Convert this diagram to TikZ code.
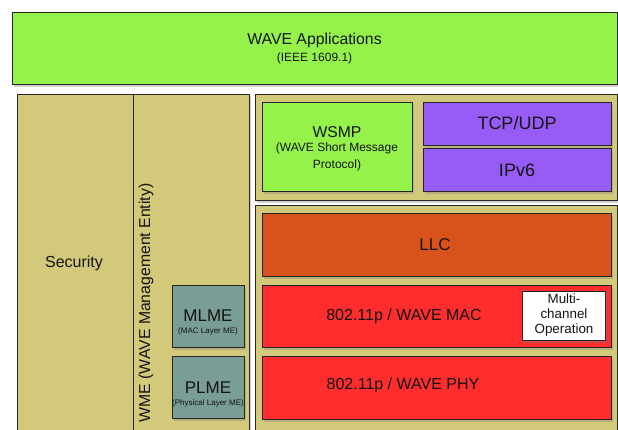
\documentclass[tikz,border=0pt]{standalone}
\usepackage{fontspec}
\setmainfont{Liberation Sans}
\usetikzlibrary{shadows}
\definecolor{appgreen}{RGB}{148,242,74}
\definecolor{khaki}{RGB}{211,201,122}
\definecolor{tealgray}{RGB}{122,157,149}
\definecolor{purp}{RGB}{152,92,246}
\definecolor{llcorange}{RGB}{216,82,28}
\definecolor{macred}{RGB}{255,45,45}
\newcommand\myfs[1]{\fontsize{#1}{#1}\selectfont}
\tikzset{
  blk/.style={draw=black!85, line width=0.9pt, inner sep=0pt, anchor=center,
    drop shadow={shadow xshift=1.5pt, shadow yshift=-2.5pt, opacity=0.35}},
  lbl/.style={inner sep=0pt, text=black!92, align=center},
}
\begin{document}
\begin{tikzpicture}[x=1pt,y=-1pt]
\useasboundingbox (0,0) rectangle (618,429);
\fill[white] (0,0) rectangle (618,429);
% top application layer
\node[blk, fill=appgreen, minimum width=605pt, minimum height=72pt] (app) at (314.5,48) {};
\node[lbl, font=\myfs{15.8}] (apptitle) at (314.5,40) {WAVE Applications};
\node[lbl, font=\myfs{12}] (appsub) at (314.5,58) {(IEEE 1609.1)};
% left panels
\node[blk, fill=khaki, minimum width=116pt, minimum height=346pt] (sec) at (75,267) {};
\node[blk, fill=khaki, minimum width=116pt, minimum height=346pt] (wme) at (191,267) {};
\node[lbl, font=\myfs{16}] (sectxt) at (74,263) {Security};
\node[lbl, font=\myfs{15.8}, rotate=90] (wmetxt) at (146,303) {WME (WAVE Management Entity)};
% right panels
\node[blk, fill=khaki, minimum width=362pt, minimum height=106pt] (upper) at (436,147) {};
\node[blk, fill=khaki, minimum width=362pt, minimum height=235pt] (lower) at (436,322.5) {};
% upper boxes
\node[blk, fill=appgreen, minimum width=150pt, minimum height=89pt] (wsmp) at (337,146.5) {};
\node[lbl, font=\myfs{15.7}] (wsmptitle) at (337,132) {WSMP};
\node[lbl, font=\fontsize{12}{16.5}\selectfont] (wsmpsub) at (337,157) {(WAVE Short Message\\Protocol)};
\node[blk, fill=purp, minimum width=188pt, minimum height=43pt] (tcp) at (517,123.5) {};
\node[blk, fill=purp, minimum width=188pt, minimum height=43pt] (ipv) at (517,169.5) {};
\node[lbl, font=\myfs{18}] (tcplbl) at (517,123.5) {TCP/UDP};
\node[lbl, font=\myfs{18}] (ipvlbl) at (517,170) {IPv6};
% lower boxes
\node[blk, fill=llcorange, minimum width=349pt, minimum height=63pt] (llc) at (436.5,244.5) {};
\node[blk, fill=macred, minimum width=349pt, minimum height=62pt] (mac) at (436.5,316) {};
\node[blk, fill=macred, minimum width=349pt, minimum height=63pt] (phy) at (436.5,387.5) {};
\node[blk, fill=white, minimum width=83pt, minimum height=49pt] (multi) at (564,316) {};
\node[lbl, font=\myfs{17}] (llctxt) at (435,245) {LLC};
\node[lbl, font=\myfs{16}] (mactxt) at (404,316) {802.11p / WAVE MAC};
\node[lbl, font=\myfs{16}] (phytxt) at (403,385.5) {802.11p / WAVE PHY};
\node[lbl, font=\fontsize{13.4}{15}\selectfont] (multitxt) at (564,315.5) {Multi-\\channel\\Operation};
% management entities
\node[blk, fill=tealgray, minimum width=72pt, minimum height=62pt] (mlme) at (208,316) {};
\node[blk, fill=tealgray, minimum width=72pt, minimum height=62pt] (plme) at (208,387) {};
\node[lbl, font=\myfs{17}] (mlmetxt) at (208,315.5) {MLME};
\node[lbl, font=\myfs{8}] (mlmesub) at (208,331.5) {(MAC Layer ME)};
\node[lbl, font=\myfs{17}] (plmetxt) at (208,387.5) {PLME};
\node[lbl, font=\myfs{8}] (plmesub) at (208,403) {(Physical Layer ME)};
\end{tikzpicture}
\end{document}
